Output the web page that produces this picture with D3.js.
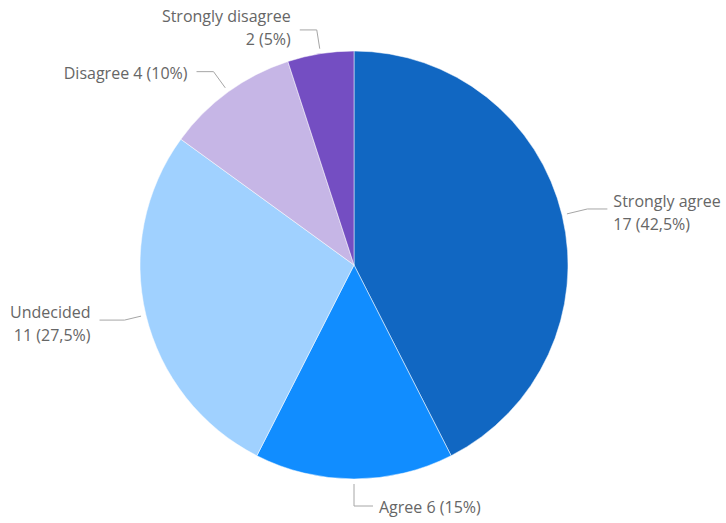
<!DOCTYPE html>
<html>
<head>
<meta charset="utf-8">
<script src="https://cdn.jsdelivr.net/npm/d3@7"></script>
<style>
  body { margin: 0; background: #fff; }
  svg { display: block; font-family: 'Open Sans', sans-serif; }
</style>
</head>
<body>
<svg></svg>
<script>
const categories = ['Strongly agree', 'Agree', 'Undecided', 'Disagree', 'Strongly disagree']
const counts = [17, 6, 11, 4, 2]
const percentLabels = ['42,5%', '15%', '27,5%', '10%', '5%']
const colors = ['#1167C2', '#118DFF', '#A0D1FF', '#C6B6E6', '#744EC2']

// leader line layout per slice: elbow radius offset, horizontal length, text offset
const labelLayout = {
  'Strongly agree': { elbow: 26, run: 20, twoLines: true, dy: -6 },
  'Agree': { elbow: 27, run: 19, twoLines: false, dy: 3 },
  'Undecided': { elbow: 22, run: 25, twoLines: true, dy: -6 },
  'Disagree': { elbow: 25, run: 17, twoLines: false, dy: 3 },
  'Strongly disagree': { elbow: 24, run: 17, twoLines: true, dy: -12 }
}

const width = 726
const height = 523
const cx = 354
const cy = 265
const radius = 214

let svg = d3.select('svg')
  .attr('width', width)
  .attr('height', height)

let g = svg.append('g').attr('transform', 'translate(' + cx + ',' + cy + ')')

let data = categories.map(function (c, i) {
  return { name: c, value: counts[i], pct: percentLabels[i], color: colors[i] }
})

let pie = d3.pie().sort(null).value(d => d.value)
let arc = d3.arc().innerRadius(0).outerRadius(radius)
let arcs = pie(data)

g.selectAll('path.slice')
  .data(arcs)
  .enter()
  .append('path')
  .attr('class', 'slice')
  .attr('d', arc)
  .attr('fill', d => d.data.color)
  .attr('stroke', '#fff')
  .attr('stroke-width', 0.5)

function polar (angle, r) {
  return [r * Math.sin(angle), -r * Math.cos(angle)]
}

arcs.forEach(function (d) {
  let lay = labelLayout[d.data.name]
  let a = (d.startAngle + d.endAngle) / 2
  let p0 = polar(a, radius + 5)
  let p1 = polar(a, radius + lay.elbow)
  let right = Math.sin(a) >= -1e-6
  let p2 = [p1[0] + (right ? lay.run : -lay.run), p1[1]]
  let tx = p2[0] + (right ? 6 : -9)

  g.append('path')
    .attr('d', 'M' + [p0, p1, p2].join('L'))
    .attr('fill', 'none')
    .attr('stroke', '#A6A6A6')
    .attr('stroke-width', 1)

  let t = g.append('text')
    .attr('x', tx)
    .attr('text-anchor', right ? 'start' : 'end')
    .attr('fill', '#666')
    .attr('font-size', 16)

  if (lay.twoLines) {
    t.append('tspan')
      .attr('x', tx)
      .attr('y', p1[1] + lay.dy)
      .attr('dominant-baseline', 'middle')
      .text(d.data.name)
    t.append('tspan')
      .attr('x', tx)
      .attr('y', p1[1] + lay.dy + 23)
      .attr('dominant-baseline', 'middle')
      .text(d.data.value + ' (' + d.data.pct + ')')
  } else {
    t.attr('y', p1[1] + lay.dy)
      .attr('dominant-baseline', 'middle')
      .text(d.data.name + ' ' + d.data.value + ' (' + d.data.pct + ')')
  }
})
</script>
</body>
</html>
